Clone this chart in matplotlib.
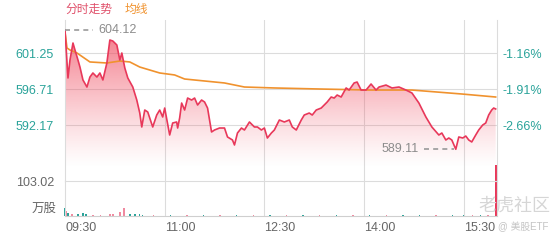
import numpy as np
import matplotlib
matplotlib.use('Agg')
import matplotlib.pyplot as plt
from matplotlib.colors import to_rgb

plt.rcParams['font.family'] = ['Liberation Sans', 'Noto Sans CJK SC', 'DejaVu Sans']

# minutes since 09:30 and intraday price
price_min = [0, 2.7, 4.5, 7.2, 9, 11.7, 13.5, 16.2, 19.8, 22.5, 25.2, 28.8, 31.5, 34.2,
             37.8, 40.5, 43.2, 46.8, 49.5, 51.3, 54, 56.7, 61.2, 64.8, 67.5, 69.3, 72,
             74.7, 76.5, 79.2, 82.8, 85.5, 88.2, 90, 94.5, 97.2, 100.8, 101.7, 103.5,
             105.3, 108, 110.7, 114.3, 117, 119.7, 123.3, 126, 128.7, 132.3, 135, 139.5,
             144, 146.7, 151.2, 153, 155.7, 159.3, 162, 166.5, 171, 173.7, 177.3, 180,
             182.7, 186.3, 189, 193.5, 198, 202.5, 205.2, 208.8, 213.3, 216, 220.5,
             223.2, 226.8, 231.3, 234, 236.7, 240.3, 243, 245.7, 249.3, 253.8, 256.5,
             261, 263.7, 267.3, 271.8, 276.3, 280.8, 283.5, 289.8, 295.2, 301.5, 307.8,
             313.2, 319.5, 325.8, 331.2, 337.5, 340.2, 343.8, 346.5, 349.2, 352.8,
             355.5, 359.1, 361.8, 364.5, 367.2, 370.8, 373.5, 377.1, 379.8, 382.5,
             385.2, 387, 388.8]
price = [604.12, 598.10, 600.37, 602.51, 601.63, 600.37, 599.48, 597.85, 596.96, 598.22,
         598.73, 598.22, 598.73, 597.85, 599.99, 602.89, 602.76, 602.26, 600.37, 601.25,
         599.36, 598.10, 596.96, 595.32, 593.68, 591.92, 594.06, 593.81, 593.05, 591.92,
         593.43, 594.06, 593.18, 594.31, 590.91, 592.42, 592.55, 591.79, 593.05, 594.94,
         594.06, 595.57, 595.32, 595.57, 594.69, 595.32, 595.07, 594.31, 591.29, 591.54,
         591.79, 591.79, 590.66, 590.28, 589.65, 591.16, 591.79, 591.54, 592.55, 591.92,
         591.92, 591.54, 591.79, 590.53, 591.16, 591.54, 592.80, 592.55, 592.80, 591.92,
         591.54, 592.80, 593.43, 593.68, 593.43, 594.06, 594.31, 594.69, 595.07, 595.70,
         595.57, 595.95, 595.70, 596.84, 596.58, 597.47, 597.59, 596.58, 596.58, 597.34,
         596.58, 596.96, 597.21, 596.84, 596.96, 596.58, 596.21, 594.94, 593.18, 591.92,
         590.91, 591.16, 590.28, 590.53, 590.28, 589.11, 590.66, 590.53, 590.78, 590.28,
         590.03, 590.91, 591.54, 592.17, 592.42, 593.43, 594.06, 594.31, 594.19]

avg_min = [0, 1.8, 4.5, 10.8, 22.5, 37.8, 49.5, 58.5, 67.5, 85.5, 99, 108, 126, 144,
           162, 189, 229.5, 274.5, 313.2, 358.2, 388.8]
avg_price = [603.9, 601.88, 601.63, 601.25, 600.12, 599.99, 600.24, 600.12, 599.48,
             598.73, 598.48, 597.97, 597.72, 597.47, 596.96, 596.84, 596.71, 596.58,
             596.58, 596.08, 595.70]

# volume (万股), 1 = up (pink), 0 = down (teal), 2 = closing auction
vol_min = [0, 1.5, 2.7, 6.3, 11.7, 16.2, 18.9, 25.2, 32, 40.5, 43.2, 49.5, 53.1, 58.5,
           63, 67.5, 70.2, 80, 95, 110, 125, 140, 155, 170, 185, 200, 215, 230, 245,
           260, 275, 290, 305, 320, 335, 350, 360, 368, 375, 382, 389]
vol = [24, 15, 10, 7, 6, 9, 7, 4, 4, 6, 5, 13, 24, 5, 6, 6, 4, 3, 3, 3, 2.5, 3, 2.5, 3,
       2.5, 3, 2.5, 3, 3, 2.5, 3, 3, 3, 3.5, 3, 3, 3.5, 4, 3.5, 4, 150]
vol_up = [0, 1, 0, 1, 0, 0, 0, 1, 1, 1, 1, 1, 1, 0, 0, 0, 0, 1, 0, 1, 0, 1, 0, 1, 0, 1, 0,
          1, 0, 1, 0, 1, 0, 0, 1, 0, 0, 1, 0, 1, 2]

price_ticks = [592.17, 596.71, 601.25]
pct_labels = ['-2.66%', '-1.91%', '-1.16%']
time_ticks = [0, 90, 180, 270, 360]
time_labels = ['09:30', '11:00', '12:30', '14:00', '15:30']
high_val, low_val = 604.12, 589.11
vol_max = 103.02

P_LO, P_HI = 585.108, 605.412
RED = '#e8385a'
ORANGE = '#f0922e'
TEAL = '#2aa39a'
GRID = '#dcdcdc'

fig = plt.figure(figsize=(5.6, 2.4), dpi=100)
fig.patch.set_facecolor('white')
ax = fig.add_axes([65 / 560, 1 - 181 / 240, 432 / 560, 161 / 240])
axv = fig.add_axes([65 / 560, 1 - 216 / 240, 432 / 560, 35 / 240])

# price panel
ax.set_xlim(0, 390)
ax.set_ylim(P_LO, P_HI)
for t in time_ticks[1:]:
    ax.axvline(t, color=GRID, lw=0.8, zorder=0)
for p in price_ticks:
    ax.axhline(p, color=GRID, lw=0.8, zorder=0)

# gradient fill under the price line
poly = ax.fill_between(price_min, price, P_LO, color='none', lw=0)
rgba = np.zeros((256, 1, 4))
rgba[..., :3] = to_rgb('#f04a5e')
fade = np.linspace(1, 0, 256)
rgba[:, 0, 3] = np.clip((fade - 0.08) / 0.92, 0, 1) ** 1.2 * 0.8
img = ax.imshow(rgba, extent=[0, 390, P_LO, P_HI], aspect='auto', origin='upper',
                zorder=1, interpolation='bilinear')
img.set_clip_path(poly.get_paths()[0], transform=ax.transData)

ax.plot(avg_min, avg_price, color=ORANGE, lw=1.2, zorder=3)
ax.plot(price_min, price, color=RED, lw=1.2, zorder=4)

ax.set_yticks(price_ticks)
ax.set_yticklabels([f'{p:.2f}' for p in price_ticks], color=TEAL, fontsize=9)
ax.tick_params(axis='y', length=0, pad=8)
ax.set_xticks([])
for s in ['top', 'bottom', 'right']:
    ax.spines[s].set_visible(False)
ax.spines['left'].set_color(GRID)
ax.spines['left'].set_linewidth(0.8)

ax2 = ax.twinx()
ax2.set_ylim(P_LO, P_HI)
ax2.set_yticks(price_ticks)
ax2.set_yticklabels(pct_labels, color=TEAL, fontsize=9)
ax2.tick_params(axis='y', length=0, pad=4)
for s in ['top', 'bottom', 'left']:
    ax2.spines[s].set_visible(False)
ax2.spines['right'].set_color(GRID)
ax2.spines['right'].set_linewidth(0.8)

# high / low markers
ax.plot([0, 25], [high_val, high_val], color='#999999', lw=1.2, ls=(0, (3, 2.5)), zorder=5)
ax.text(30, high_val, f'{high_val:.2f}', color='#8c8c8c', fontsize=9, va='center', ha='left')
ax.plot([324, 351], [low_val, low_val], color='#999999', lw=1.2, ls=(0, (3, 2.5)), zorder=5)
ax.text(319, low_val, f'{low_val:.2f}', color='#8c8c8c', fontsize=9, va='center', ha='right')

# volume panel
axv.set_xlim(0, 390)
axv.set_ylim(0, vol_max)
for t in time_ticks[1:]:
    axv.axvline(t, color=GRID, lw=0.8, zorder=0)
vol_colors = [TEAL if u == 0 else ('#f08aa0' if u == 1 else RED) for u in vol_up]
axv.bar(vol_min, vol, width=1.3, color=vol_colors, lw=0, clip_on=False, zorder=2)
axv.set_yticks([vol_max])
axv.set_yticklabels([f'{vol_max:.2f}'], color='#666666', fontsize=9)
axv.tick_params(axis='y', length=0, pad=8)
axv.set_xticks(time_ticks)
axv.set_xticklabels(time_labels, color='#666666', fontsize=9, ha='left')
axv.tick_params(axis='x', length=0, pad=4)
for s in axv.spines.values():
    s.set_color(GRID)
    s.set_linewidth(0.8)
axv.spines['bottom'].set_color('#cfcfcf')

fig.text(57 / 560, 1 - 209 / 240, '万股', color='#666666', fontsize=9, ha='right', va='center')

# header
fig.text(65 / 560, 1 - 10 / 240, '分时走势', color='#e0506a', fontsize=8.5, va='center')
fig.text(125 / 560, 1 - 10 / 240, '均线', color=ORANGE, fontsize=8.5, va='center')

# watermark
fig.text(550 / 560, 1 - 206 / 240, '老虎社区', color='#d6d6d6', fontsize=13, ha='right', va='center')
fig.text(548 / 560, 1 - 227 / 240, '@ 美股ETF', color='#c4c4c4', fontsize=7, ha='right', va='center')

fig.savefig('out.png', dpi=100, facecolor='white')
